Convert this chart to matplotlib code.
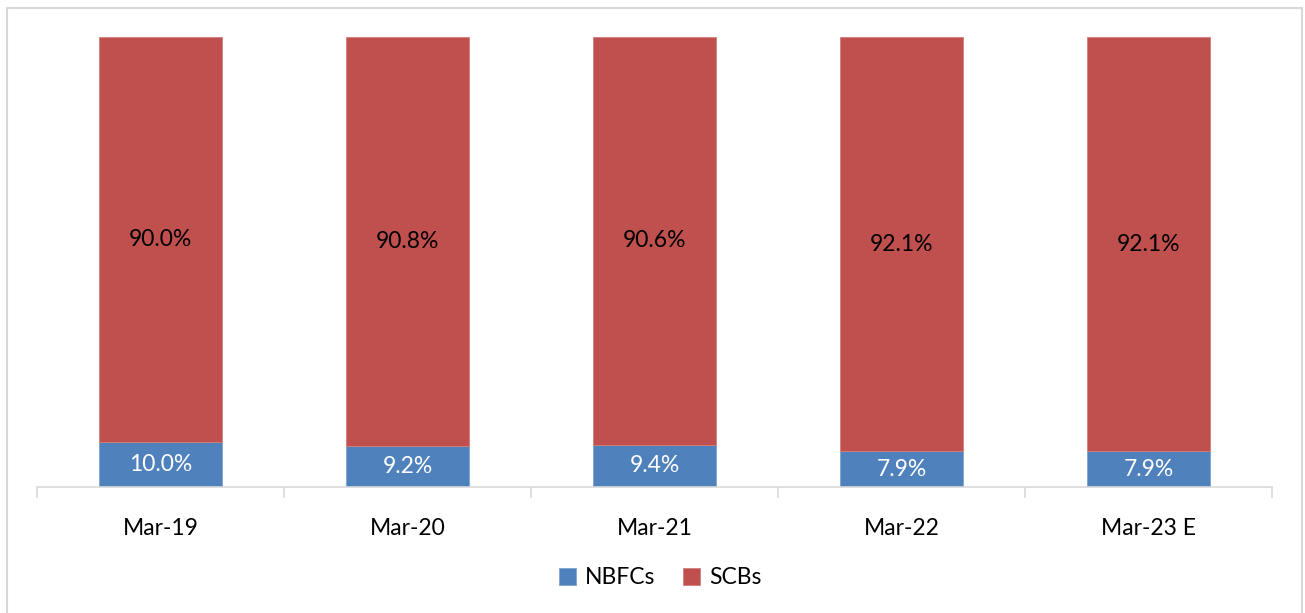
import numpy as np
import matplotlib.pyplot as plt
from matplotlib.patches import Rectangle

# data
years = ['Mar-19', 'Mar-20', 'Mar-21', 'Mar-22', 'Mar-23 E']
nbfc = [10.0, 9.2, 9.4, 7.9, 7.9]
scb = [90.0, 90.8, 90.6, 92.1, 92.1]

plt.rcParams['font.family'] = ['Lato', 'DejaVu Sans']

fig = plt.figure(figsize=(13.05, 6.13), dpi=100)
ax = fig.add_axes([37/1305, 1-487/613, (1272-37)/1305, 450/613])

x = np.arange(len(years))
blue = '#4F81BD'
red = '#C0504D'

b1 = ax.bar(x, nbfc, 0.5, color=blue, edgecolor='#7fa3d0', linewidth=0.6, label='NBFCs')
b2 = ax.bar(x, scb, 0.5, bottom=nbfc, color=red, edgecolor='#d47e7b', linewidth=0.6, label='SCBs')

for i in range(len(years)):
    ax.text(x[i], nbfc[i]/2, '%.1f%%' % nbfc[i], ha='center', va='center',
            color='white', fontsize=16.5)
    ax.text(x[i], nbfc[i] + scb[i]/2, '%.1f%%' % scb[i], ha='center', va='center',
            color='black', fontsize=16.5)

ax.set_xlim(-0.5, len(years) - 0.5)
ax.set_ylim(0, 100)
ax.set_yticks([])
for s in ['top', 'right', 'left']:
    ax.spines[s].set_visible(False)
ax.spines['bottom'].set_color('#d9d9d9')
ax.spines['bottom'].set_linewidth(1.2)

ax.set_xticks(x)
ax.set_xticklabels(years, fontsize=16.5)
ax.tick_params(axis='x', length=0, pad=22)
# boundary tick marks
ax.set_xticks(np.arange(len(years) + 1) - 0.5, minor=True)
ax.tick_params(axis='x', which='minor', length=8, color='#d9d9d9', width=1.2)

leg = fig.legend(handles=[b1, b2], loc='center', bbox_to_anchor=(660/1305, 1-578/613),
                 ncol=2, frameon=False, fontsize=16.5, handlelength=0.75, handleheight=0.75,
                 columnspacing=1.2, handletextpad=0.4)

# outer chart border
fig.patches.append(Rectangle((7/1305, -0.05), (1302-7)/1305, 1.05 - 8/613,
                             transform=fig.transFigure, fill=False,
                             edgecolor='#d9d9d9', linewidth=1.5))

plt.savefig('out.png', dpi=100)
